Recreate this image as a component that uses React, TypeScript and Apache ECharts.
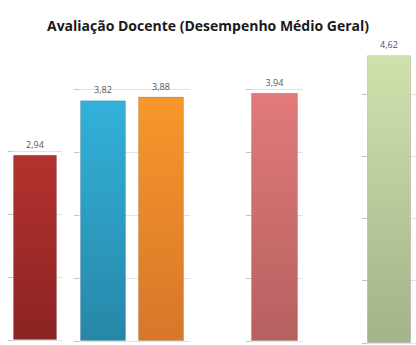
import React, { useEffect, useRef } from "react";
import * as echarts from "echarts";

// Average teacher evaluation scores, one small panel per group
const panelCategories: string[][] = [["A"], ["B", "C"], ["D"], ["E"]];
const panelValues: number[][] = [[2.94], [3.82, 3.88], [3.94], [4.62]];
const panelColors: [string, string][][] = [
  [["#b3322e", "#8c2323"]],
  [
    ["#33b1da", "#2787a8"],
    ["#f9962a", "#d6772a"],
  ],
  [["#e27a7a", "#b66060"]],
  [["#cfe2ad", "#a2b389"]],
];
const panelMax: number[] = [3, 4, 4, 4];

// Panel boxes in pixels: left, width, baseline y, pixels per unit
const panelBoxes = [
  { left: 8, width: 54, base: 340, unit: 63 },
  { left: 74, width: 116, base: 341, unit: 63 },
  { left: 246, width: 57, base: 341, unit: 63 },
  { left: 362, width: 54, base: 343, unit: 62.3 },
];
const barWidths = [44, 46, 47, 44];

const fmt = (v: number) => v.toFixed(2).replace(".", ",");

export default function App() {
  const ref = useRef<HTMLDivElement>(null);

  useEffect(() => {
    if (!ref.current) return;
    const chart = echarts.init(ref.current, null, { renderer: "svg" });

    const grid = panelBoxes.map((b, i) => ({
      left: b.left,
      width: b.width,
      top: b.base - panelMax[i] * b.unit,
      height: panelMax[i] * b.unit,
    }));

    const xAxis = panelCategories.map((cats, i) => ({
      type: "category" as const,
      gridIndex: i,
      data: cats,
      axisLine: { show: false },
      axisTick: { show: false },
      axisLabel: { show: false },
    }));

    const yAxis = panelMax.map((m, i) => ({
      type: "value" as const,
      gridIndex: i,
      min: 0,
      max: m,
      interval: 1,
      axisLine: { show: false },
      axisTick: { show: true, inside: true, length: 5, lineStyle: { color: "#c4c4c4" } },
      axisLabel: { show: false },
      splitLine: { show: true, lineStyle: { color: "#e2e2e2", width: 1 } },
    }));

    const series = panelValues.map((vals, i) => ({
      type: "bar" as const,
      xAxisIndex: i,
      yAxisIndex: i,
      barWidth: barWidths[i],
      clip: false,
      data: vals.map((v, j) => ({
        value: v,
        itemStyle: {
          color: new echarts.graphic.LinearGradient(0, 0, 0, 1, [
            { offset: 0, color: panelColors[i][j][0] },
            { offset: 1, color: panelColors[i][j][1] },
          ]),
          borderColor: "rgba(0,0,0,0.12)",
          borderWidth: 1,
        },
      })),
      label: {
        show: true,
        position: "top" as const,
        distance: 6,
        color: "#555555",
        fontSize: 9,
        fontFamily: "Open Sans",
        formatter: (p: any) => fmt(p.value),
      },
    }));

    chart.setOption({
      animation: false,
      backgroundColor: "#ffffff",
      title: {
        text: "Avaliação Docente (Desempenho Médio Geral)",
        left: "center",
        top: 13,
        textStyle: {
          fontFamily: "Open Sans",
          fontWeight: "bold",
          fontSize: 14,
          color: "#1a1a1a",
        },
      },
      grid,
      xAxis,
      yAxis,
      series,
    });
    return () => chart.dispose();
  }, []);

  return (
    <div
      ref={ref}
      style={{ position: "fixed", left: 0, top: 0, width: 416, height: 345 }}
    />
  );
}
